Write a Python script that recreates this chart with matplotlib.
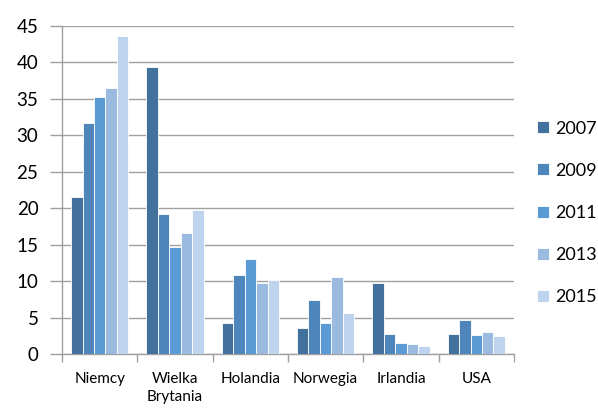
import matplotlib.pyplot as plt
import numpy as np

plt.rcParams['font.family'] = ['Lato', 'DejaVu Sans']

kraje = ['Niemcy', 'Wielka\nBrytania', 'Holandia', 'Norwegia', 'Irlandia', 'USA']
lata = ['2007', '2009', '2011', '2013', '2015']
w2007 = [21.5, 39.4, 4.3, 3.6, 9.7, 2.7]
w2009 = [31.7, 19.2, 10.8, 7.4, 2.7, 4.6]
w2011 = [35.3, 14.7, 13.0, 4.2, 1.5, 2.6]
w2013 = [36.5, 16.6, 9.8, 10.5, 1.4, 3.0]
w2015 = [43.6, 19.8, 10.2, 5.6, 1.1, 2.4]
serie = [w2007, w2009, w2011, w2013, w2015]
kolory = ['#41719C', '#4E86BC', '#5B9BD5', '#9BBAE0', '#BDD3EE']

fig = plt.figure(figsize=(5.98, 4.08), dpi=100)
ax = fig.add_axes([0.1037, 0.1324, 0.7558, 0.8039])

x = np.arange(len(kraje))
szer = 0.152
for i, (vals, kol, rok) in enumerate(zip(serie, kolory, lata)):
    ax.bar(x + (i - 2) * szer, vals, szer, color=kol, edgecolor='white',
           linewidth=0.6, label=rok, zorder=3)

ax.set_xlim(-0.5, len(kraje) - 0.5)
ax.set_ylim(0, 45)
ax.set_yticks(np.arange(0, 46, 5))
ax.yaxis.grid(True, color='#A0A0A0', linewidth=1.0, zorder=0)
ax.tick_params(axis='y', labelsize=13.5, length=9, width=1.0, color='#A0A0A0', pad=8)

ax.set_xticks(np.arange(-0.5, len(kraje), 1))
ax.set_xticklabels([])
ax.set_xticks(x, minor=True)
ax.set_xticklabels(kraje, minor=True, fontsize=11, linespacing=1.4)
ax.tick_params(axis='x', which='major', length=6, width=1.0, color='#A0A0A0')
ax.tick_params(axis='x', which='minor', length=0, pad=13)

for s in ['top', 'right']:
    ax.spines[s].set_visible(False)
for s in ['left', 'bottom']:
    ax.spines[s].set_color('#A0A0A0')
    ax.spines[s].set_linewidth(1.0)

ax.legend(loc='center left', bbox_to_anchor=(1.035, 0.43), frameon=False,
          borderaxespad=0, fontsize=13, labelspacing=1.45, handlelength=0.65,
          handleheight=0.65, handletextpad=0.35)

fig.savefig('out.png', dpi=100)
